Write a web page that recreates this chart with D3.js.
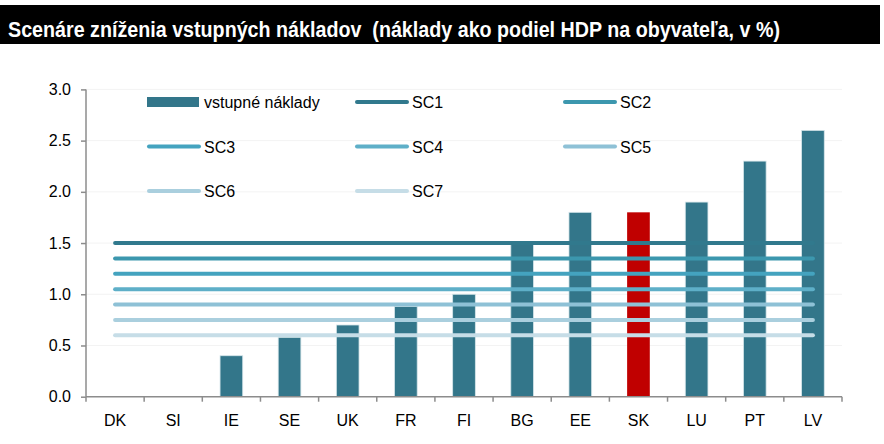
<!DOCTYPE html>
<html>
<head>
<meta charset="utf-8">
<script src="https://cdn.jsdelivr.net/npm/d3@7"></script>
<style>
  body { margin: 0; background: #fff; }
  svg text { font-family: "Liberation Sans Narrow", "Arial Narrow", "Liberation Sans", sans-serif; }
</style>
</head>
<body>
<svg id="chart" width="884" height="444"></svg>
<script>
// data
var countries = ['DK','SI','IE','SE','UK','FR','FI','BG','EE','SK','LU','PT','LV']
var costs = [0, 0, 0.4, 0.58, 0.7, 0.88, 1.0, 1.5, 1.8, 1.8, 1.9, 2.3, 2.6]
var scenarios = ['SC1','SC2','SC3','SC4','SC5','SC6','SC7']
var scenarioValues = [1.5, 1.35, 1.2, 1.05, 0.9, 0.75, 0.6]
var scenarioColors = ['#31798d','#3c97ae','#44a3bf','#5eafc8','#8ec1d6','#aacfde','#c6dde7']
var yTicks = [0, 0.5, 1.0, 1.5, 2.0, 2.5, 3.0]

var svg = d3.select('#chart')

// title bar
svg.append('rect').attr('x', 0).attr('y', 5).attr('width', 880).attr('height', 39).attr('fill', '#000')
svg.append('text').attr('x', 8).attr('y', 36.5)
  .attr('fill', '#fff').attr('font-size', 22).attr('font-weight', 'bold')
  .attr('xml:space', 'preserve')
  .attr('textLength', 772).attr('lengthAdjust', 'spacingAndGlyphs')
  .text('Scenáre zníženia vstupných nákladov  (náklady ako podiel HDP na obyvateľa, v %)')

var x = d3.scaleBand().domain(countries).range([86, 842])
var y = d3.scaleLinear().domain([0, 3]).range([396.7, 89.4])

// faint gridlines
svg.append('g').selectAll('line').data(yTicks.slice(1)).join('line')
  .attr('x1', 86).attr('x2', 842)
  .attr('y1', function(d){ return y(d) }).attr('y2', function(d){ return y(d) })
  .attr('stroke', '#f3f3f3').attr('stroke-width', 1)

// bars
var bw = x.bandwidth() * 0.39
svg.append('g').selectAll('rect').data(countries).join('rect')
  .attr('x', function(d){ return x(d) + x.bandwidth()/2 - bw/2 })
  .attr('y', function(d, i){ return y(costs[i]) })
  .attr('width', bw)
  .attr('height', function(d, i){ return y(0) - y(costs[i]) })
  .attr('fill', function(d){ return d == 'SK' ? '#c00000' : '#33768a' })
  .attr('stroke', function(d){ return d == 'SK' ? 'none' : '#d6e6ea' })
  .attr('stroke-width', function(d, i){ return costs[i] > 0 ? 0.8 : 0 })

// scenario lines
var xFirst = x(countries[0]) + x.bandwidth()/2
var xLast = x(countries[countries.length-1]) + x.bandwidth()/2
svg.append('g').selectAll('line').data(scenarioValues).join('line')
  .attr('x1', xFirst).attr('x2', xLast)
  .attr('y1', function(d){ return y(d) }).attr('y2', function(d){ return y(d) })
  .attr('stroke', function(d, i){ return scenarioColors[i] })
  .attr('stroke-width', 4).attr('stroke-linecap', 'round')

// y axis
var yAxis = svg.append('g').attr('transform', 'translate(86,0)')
  .call(d3.axisLeft(y).tickValues(yTicks).tickFormat(d3.format('.1f')).tickSize(5).tickPadding(10))
yAxis.select('.domain').attr('stroke', '#8c8c8c').attr('stroke-width', 1.5).attr('d', 'M0,' + y(3) + 'V' + y(0))
yAxis.selectAll('.tick line').attr('stroke', '#8c8c8c').attr('stroke-width', 1.5)
yAxis.selectAll('.tick text').attr('font-size', 16).attr('fill', '#000')

// x axis with ticks at category boundaries
var xAxis = svg.append('g').attr('transform', 'translate(0,' + y(0) + ')')
xAxis.append('line').attr('x1', 86).attr('x2', 842).attr('stroke', '#8c8c8c').attr('stroke-width', 1.5)
xAxis.selectAll('line.b').data(countries.concat(['end'])).join('line').attr('class', 'b')
  .attr('x1', function(d, i){ return 86 + i * x.step() }).attr('x2', function(d, i){ return 86 + i * x.step() })
  .attr('y1', 0).attr('y2', 5).attr('stroke', '#8c8c8c').attr('stroke-width', 1.5)
xAxis.selectAll('text').data(countries).join('text')
  .attr('x', function(d){ return x(d) + x.bandwidth()/2 })
  .attr('y', 29).attr('text-anchor', 'middle').attr('font-size', 16).attr('fill', '#000')
  .text(function(d){ return d })

// legend
var legendItems = [{name: 'vstupné náklady', bar: true, color: '#33768a'}]
scenarios.forEach(function(s, i){ legendItems.push({name: s, bar: false, color: scenarioColors[i]}) })
var colX = [147, 355, 563]
var rowY = [102, 146.5, 191]
var leg = svg.append('g').selectAll('g').data(legendItems).join('g')
  .attr('transform', function(d, i){ return 'translate(' + colX[i % 3] + ',' + rowY[Math.floor(i / 3)] + ')' })
leg.each(function(d){
  var g = d3.select(this)
  if (d.bar) {
    g.append('rect').attr('x', 0).attr('y', -5).attr('width', 52).attr('height', 10).attr('fill', d.color)
  } else {
    g.append('line').attr('x1', 2).attr('x2', 52).attr('y1', 0).attr('y2', 0)
      .attr('stroke', d.color).attr('stroke-width', 4).attr('stroke-linecap', 'round')
  }
  g.append('text').attr('x', 57).attr('y', 6).attr('font-size', 16).attr('fill', '#000').text(d.name)
})
</script>
</body>
</html>
